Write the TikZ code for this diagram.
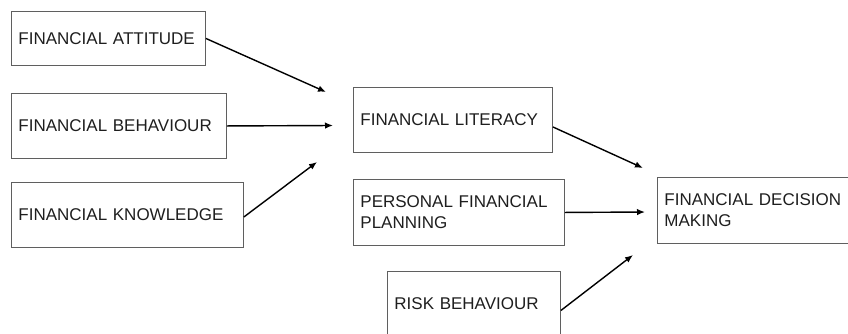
\documentclass[tikz,border=0pt]{standalone}
\usepackage{fontspec}
\setmainfont{Liberation Sans}
\usepackage{tikz}
\usetikzlibrary{shapes, arrows.meta, positioning}
\definecolor{boxline}{RGB}{95,95,95}
\definecolor{boxtext}{RGB}{30,30,30}
\tikzstyle{block} = [draw=boxline, line width=0.9pt, rectangle, anchor=north west,
  inner xsep=7pt, inner ysep=0pt, align=left, text=boxtext,
  font=\fontsize{17}{21}\selectfont]

\begin{document}
\begin{tikzpicture}[x=1pt,y=-1pt,>={Latex[length=8pt,width=6.5pt]},line width=1.4pt]
  \clip (0,0) rectangle (848,333);
  \node[block, text width=180pt, minimum height=54pt] (att) at (11,11) {FINANCIAL ATTITUDE};
  \node[block, text width=201pt, minimum height=65pt] (beh) at (11,93) {FINANCIAL BEHAVIOUR};
  \node[block, text width=218pt, minimum height=65pt] (know) at (11,182) {FINANCIAL KNOWLEDGE};
  \node[block, text width=185pt, minimum height=65pt] (lit) at (353,87) {FINANCIAL LITERACY};
  \node[block, text width=197pt, minimum height=66pt] (pfp) at (353,179) {PERSONAL FINANCIAL\\PLANNING};
  \node[block, text width=159pt, minimum height=64pt] (risk) at (387,271) {RISK BEHAVIOUR};
  \node[block, text width=240pt, minimum height=66pt] (dec) at (657,177) {FINANCIAL DECISION\\MAKING};

  % loose arrow ends
  \coordinate (litin1) at (326,92);
  \coordinate (litin2) at (333,125.5);
  \coordinate (litin3) at (317,162);
  \coordinate (decin1) at (643,168);
  \coordinate (decin2) at (645,212);
  \coordinate (decin3) at (633,255);

  \draw[->] (att.east) -- (litin1);
  \draw[->] (beh.east) -- (litin2);
  \draw[->] ([yshift=-2pt]know.east) -- (litin3);
  \draw[->] ([yshift=-7pt]lit.east) -- (decin1);
  \draw[->] (pfp.east) -- (decin2);
  \draw[->] ([yshift=-7pt]risk.east) -- (decin3);
\end{tikzpicture}
\end{document}
